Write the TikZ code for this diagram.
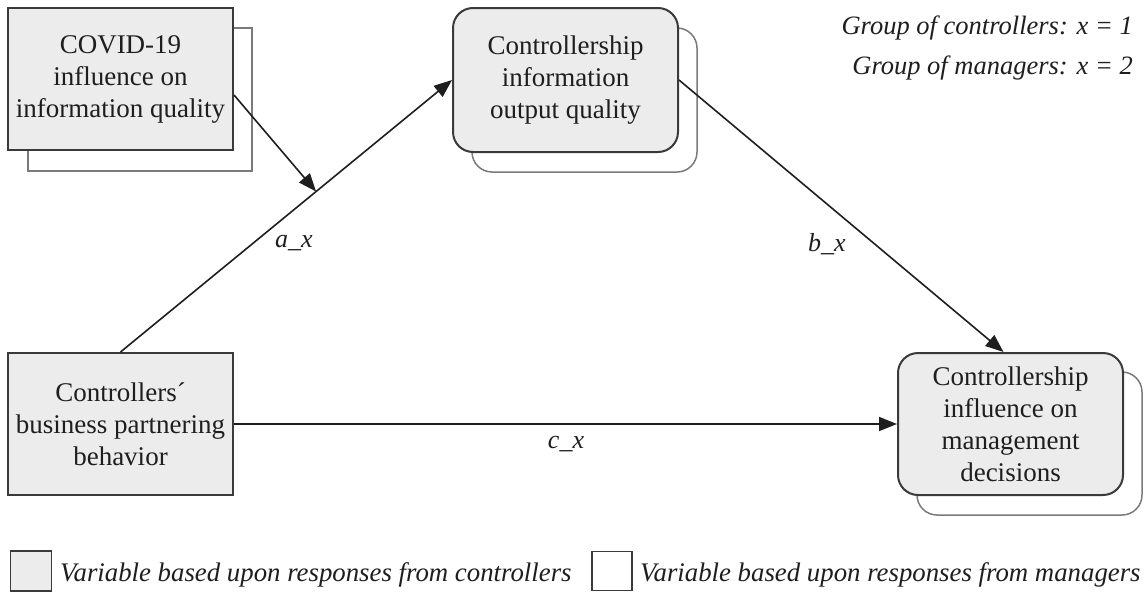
\documentclass[tikz,border=0pt]{standalone}
\usepackage{fontspec}
\setmainfont{Liberation Serif}
\usetikzlibrary{arrows.meta,calc}
\definecolor{boxfill}{HTML}{ECECEC}
\definecolor{boxline}{HTML}{3A3A3A}
\definecolor{backline}{HTML}{7A7A7A}
\definecolor{ink}{HTML}{1E1E1E}
\begin{document}
\begin{tikzpicture}[x=1pt,y=-1pt,
  ctrlbox/.style={draw=boxline,line width=2pt,fill=boxfill,minimum width=225pt,
    minimum height=142pt,inner sep=0pt,align=center,text=ink,
    font=\fontsize{27}{32}\selectfont},
  roundbox/.style={ctrlbox,rounded corners=20pt},
  backsq/.style={draw=backline,line width=1.5pt,fill=white},
  backround/.style={backsq,rounded corners=20pt},
  arr/.style={draw=ink,line width=1.6pt,-{Triangle[length=18pt,width=14pt]}},
  lbl/.style={text=ink,font=\fontsize{26}{30}\selectfont\itshape,inner sep=0pt},
  note/.style={text=ink,font=\fontsize{26.5}{30}\selectfont\itshape,inner sep=0pt},
  keytext/.style={text=ink,font=\fontsize{26.8}{30}\selectfont\itshape,inner sep=0pt}]
\useasboundingbox (0,0) rectangle (1145,592);

% back sheets of the variables measured in both groups
\draw[backsq] (28,28) rectangle (252,171);
\draw[backround] (472,28) rectangle (697,172);
\draw[backround] (917,372) rectangle (1142,515);

% variables
\node[ctrlbox] (p1) at (120.5,79) {COVID-19\\influence on\\information quality};
\node[roundbox,minimum height=144pt] (p2) at (565.5,80) {Controllership\\information\\output quality};
\node[ctrlbox] (p3) at (120.5,424) {Controllers\textasciiacute\\business partnering\\behavior};
\node[roundbox] (p4) at (1010.5,424) {Controllership\\influence on\\management\\decisions};

% paths
\draw[arr] (p3.north) -- (p2.west);
\coordinate (m) at ($(p3.north)!0.59!(p2.west)$);
\draw[arr] ([yshift=-16pt]p1.east) -- (m);
\draw[arr] (p2.east) -- ([xshift=-7pt]p4.north);
\draw[arr] (p3.east) -- (p4.west);

% path labels
\node[lbl] (la) at (294,243) {a\_x};
\node[lbl] (lb) at (827,244) {b\_x};
\node[lbl] (lc) at (566,444) {c\_x};

% group coding
\node[note,anchor=east] (g1) at (1133,28) {Group of controllers: x = 1};
\node[note,anchor=east] (g2) at (1133,68) {Group of managers: x = 2};

% legend
\node[draw=boxline,line width=1.5pt,fill=boxfill,minimum width=41pt,minimum height=40pt,inner sep=0pt] (k1) at (31,571) {};
\node[keytext,anchor=west] (t1) at (60,575) {Variable based upon responses from controllers};
\node[draw=boxline,line width=1.2pt,fill=white,minimum width=40pt,minimum height=39pt,inner sep=0pt] (k2) at (612,571) {};
\node[keytext,anchor=west] (t2) at (640,575) {Variable based upon responses from managers};
\end{tikzpicture}
\end{document}
